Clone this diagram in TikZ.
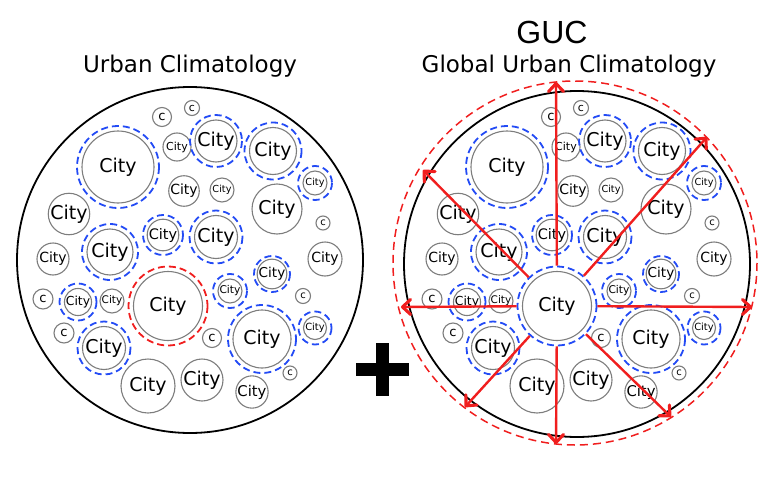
\documentclass[tikz,border=0pt]{standalone}
\usepackage{fontspec}
\setmainfont{DejaVu Sans}
\newfontfamily\gucfont{Liberation Sans}
\usetikzlibrary{arrows.meta}
\definecolor{ringblue}{RGB}{35,75,245}
\definecolor{ringred}{RGB}{240,30,30}
\definecolor{rimgray}{RGB}{125,125,125}
\begin{document}
\begin{tikzpicture}[x=1pt,y=-1pt,
        town/.style={circle,draw=rimgray,line width=1.1pt,inner sep=0pt},
        halo/.style={line width=1.8pt,dash pattern=on 7pt off 4pt},
        rim/.style={line width=1.8pt},
        spoke/.style={draw=ringred,line width=2.4pt,-{Straight Barb[length=8pt,width=15pt,line width=0pt 1.3,round]}},
        heading/.style={anchor=base,font=\fontsize{23}{23}\selectfont}]
        \useasboundingbox (0,0) rectangle (768,495);
        \node[heading] (urbantitle) at (190,73) {Urban Climatology};
        \node[heading] (globaltitle) at (569,73) {Global Urban Climatology};
        \node[anchor=base,font=\gucfont\fontsize{32}{32}\selectfont] (guc) at (552,44) {GUC};
        \draw[rim] (190,260) circle[radius=173];
        \draw[rim] (577,264) circle[radius=173];
        \draw[ringred,line width=1.5pt,dash pattern=on 8pt off 5pt] (575,263) circle[radius=182];
        \foreach \px/\side in {0/L,389/R} {
            \foreach \x/\y/\rad/\sz/\txt/\ringcol [count=\i] in {
                162/117/9.5/13/c/none, 192/108/7.5/11/c/none,
                118/167/36/19/City/ringblue, 177/147/14/11/City/none,
                216/141/21/19/City/ringblue, 273/151/23.5/19/City/ringblue,
                315/183/12/9.7/City/ringblue, 184/191/15/14/City/none,
                222/190/12/9.7/City/none, 277/209/25/19/City/none,
                323/223/7/10/c/none, 69/214/20/19/City/none,
                110/252/23/19/City/ringblue, 163/235/15/14.5/City/ringblue,
                216/237/21.5/19/City/ringblue, 53/259/16/14/City/none,
                325/259/17/14/City/none, 272/274/13/13.6/City/ringblue,
                230/291/12/10.7/City/ringblue, 303/296/7.5/10/c/none,
                43/299/10/13/c/none, 78/302/13.5/12.4/City/ringblue,
                112/301/12/10.5/City/none, 315/328/11.5/9.9/City/ringblue,
                64/333/10/13/c/none, 212/338/9.5/13/c/none,
                262/339/29/19/City/ringblue, 104/348/21.5/19/City/ringblue,
                290/373/7/10/c/none, 148/386/27/19/City/none,
                202/380/21/19/City/none, 252/392/15/14.8/City/none} {
                \node[town,minimum size=2*\rad,font=\fontsize{\sz}{\sz}\selectfont] (\side\i) at (\x+\px,\y) {\txt};
                \draw[halo,draw=\ringcol] (\side\i.center) circle[radius=\rad+5];
            }
        }
        \node[town,minimum size=69,font=\fontsize{19}{19}\selectfont] (Lhub) at (168,306) {City};
        \draw[halo,draw=ringred] (Lhub.center) circle[radius=39.5];
        \node[town,minimum size=69,font=\fontsize{19}{19}\selectfont] (Rhub) at (557,306) {City};
        \node[circle,halo,draw=ringblue,inner sep=0pt,minimum size=79] (Rhalo) at (Rhub.center) {};
        \fill (356,363) rectangle (409,376);
        \fill (376,343) rectangle (389,396);
        \coordinate (tipN) at (556,82);
        \coordinate (tipNE) at (707,137);
        \coordinate (tipE) at (752,307);
        \coordinate (tipSE) at (671,417);
        \coordinate (tipS) at (556,444);
        \coordinate (tipSW) at (465,407);
        \coordinate (tipW) at (401,307);
        \coordinate (tipNW) at (423,170);
        \foreach \tip in {tipN,tipNE,tipE,tipSE,tipS,tipSW,tipW,tipNW}
            \draw[spoke] (Rhalo) -- (\tip);
    \end{tikzpicture}
\end{document}
